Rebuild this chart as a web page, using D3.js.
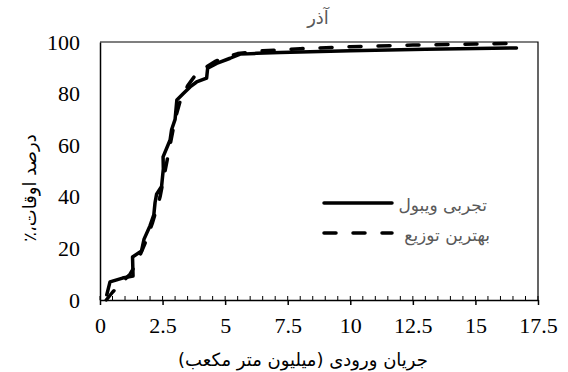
<!DOCTYPE html>
<html>
<head>
<meta charset="utf-8">
<script src="https://cdn.jsdelivr.net/npm/d3@7"></script>
<style>
  body { margin: 0; background: #fff; }
</style>
</head>
<body>
<div id="chart"></div>
<script>
// empirical Weibull points [flow, percent]
const weibullX = [0.27, 0.4, 0.9, 1.32, 1.3, 1.66, 1.76, 2.0, 2.15, 2.2, 2.26, 2.46, 2.53, 2.52, 2.8, 2.86, 3.0, 3.07, 3.33, 3.6, 3.86, 4.26, 4.3, 4.66, 5.2, 5.6, 6.26, 7.2, 10, 13, 16.64];
const weibullY = [2, 7, 8.5, 9.3, 16.7, 19, 23.6, 28.8, 33, 37.8, 41, 44, 50.8, 55.5, 62, 66, 70, 77.5, 80, 82.6, 84.5, 86, 89.8, 91.7, 93.7, 95.3, 95.6, 95.9, 96.6, 97.2, 97.7];
// best-fit distribution
const fitX = [0.25, 0.5, 0.8, 1.2, 1.5, 1.8, 2.1, 2.4, 2.6, 2.8, 3.0, 3.2, 3.5, 3.8, 4.2, 4.6, 5.0, 5.5, 6.5, 8, 10, 12.5, 15, 16.4];
const fitY = [0, 3, 6, 10, 15, 22, 30, 40, 50, 60, 70, 77, 83, 87, 90, 92.5, 94, 95.5, 96.6, 97.4, 98.2, 98.8, 99.2, 99.5];
const xTicks = [0, 2.5, 5, 7.5, 10, 12.5, 15, 17.5];
const yTicks = [0, 20, 40, 60, 80, 100];

const title = "آذر";
const xTitle = "جریان ورودی (میلیون متر مکعب)";
const yTitle = "درصد اوقات،٪";
const legendNames = ["تجربی ویبول", "بهترین توزیع"];

const W = 568, H = 372;
const margin = { top: 42, right: 30, bottom: 72, left: 100 };
const width = 538 - margin.left, height = 300 - margin.top;

const svg = d3.select("#chart").append("svg")
    .attr("width", W).attr("height", H);
const g = svg.append("g").attr("transform", `translate(${margin.left},${margin.top})`);

const x = d3.scaleLinear().domain([0, 17.5]).range([0, width]);
const y = d3.scaleLinear().domain([0, 100]).range([height, 0]);

const arabic = "DejaVu Sans";

// frame (top and right)
g.append("path")
    .attr("d", `M0,0H${width}V${height}`)
    .attr("fill", "none").attr("stroke", "#000").attr("stroke-width", 1.2);

// minor ticks on x axis (inside)
const minor = d3.range(0, 17.5001, 0.5);
g.selectAll(".minor").data(minor).enter().append("line")
    .attr("x1", d => x(d)).attr("x2", d => x(d))
    .attr("y1", height).attr("y2", height - 4)
    .attr("stroke", "#000").attr("stroke-width", 1);

// x axis
const xAxis = g.append("g")
    .attr("transform", `translate(0,${height})`)
    .call(d3.axisBottom(x).tickValues(xTicks).tickSize(5).tickSizeOuter(0).tickPadding(12)
        .tickFormat(d3.format("")));
xAxis.attr("font-family", "Liberation Serif").attr("font-size", 22);
xAxis.select(".domain").attr("stroke-width", 1.5);
xAxis.selectAll(".tick line").attr("stroke-width", 1.5);
xAxis.selectAll("text").attr("fill", "#000");

// y axis
const yAxis = g.append("g")
    .call(d3.axisLeft(y).tickValues(yTicks).tickSize(0).tickPadding(20));
yAxis.attr("font-family", "Liberation Serif").attr("font-size", 22);
yAxis.select(".domain").attr("stroke-width", 1.5);
yAxis.selectAll("text").attr("fill", "#000");

// curves
const line = d3.line().x(d => x(d[0])).y(d => y(d[1])).curve(d3.curveLinear);
const weibull = weibullX.map((v, i) => [v, weibullY[i]]);
const fit = fitX.map((v, i) => [v, fitY[i]]);

g.append("path").datum(weibull)
    .attr("d", line).attr("fill", "none")
    .attr("stroke", "#000").attr("stroke-width", 3.5)
    .attr("stroke-linejoin", "round").attr("stroke-linecap", "round");

g.append("path").datum(fit)
    .attr("d", line).attr("fill", "none")
    .attr("stroke", "#000").attr("stroke-width", 3.5)
    .attr("stroke-dasharray", "12,17")
    .attr("stroke-linejoin", "round").attr("stroke-linecap", "round");

// legend
const legend = svg.append("g");
const legY = [203, 233];
legendNames.forEach((name, i) => {
    legend.append("line")
        .attr("x1", 324).attr("x2", 392)
        .attr("y1", legY[i]).attr("y2", legY[i])
        .attr("stroke", "#000").attr("stroke-width", 3.5)
        .attr("stroke-linecap", "round")
        .attr("stroke-dasharray", i === 1 ? "12,17" : null);
    legend.append("text")
        .attr("x", i === 0 ? 487 : 490).attr("y", legY[i] + 8)
        .attr("text-anchor", "start")
        .attr("direction", "rtl")
        .attr("font-family", arabic).attr("font-size", 17)
        .attr("fill", "#595959")
        .text(name);
});

// title
svg.append("text")
    .attr("x", 318).attr("y", 24)
    .attr("text-anchor", "middle")
    .attr("font-family", arabic).attr("font-size", 18)
    .attr("fill", "#595959")
    .text(title);

// axis titles
svg.append("text")
    .attr("x", 303).attr("y", 366)
    .attr("text-anchor", "middle")
    .attr("direction", "rtl")
    .attr("font-family", arabic).attr("font-size", 18)
    .attr("fill", "#000")
    .text(xTitle);

svg.append("text")
    .attr("transform", "translate(36,188) rotate(-90)")
    .attr("text-anchor", "middle")
    .attr("direction", "rtl")
    .attr("font-family", arabic).attr("font-size", 18)
    .attr("fill", "#000")
    .text(yTitle);
</script>
</body>
</html>
